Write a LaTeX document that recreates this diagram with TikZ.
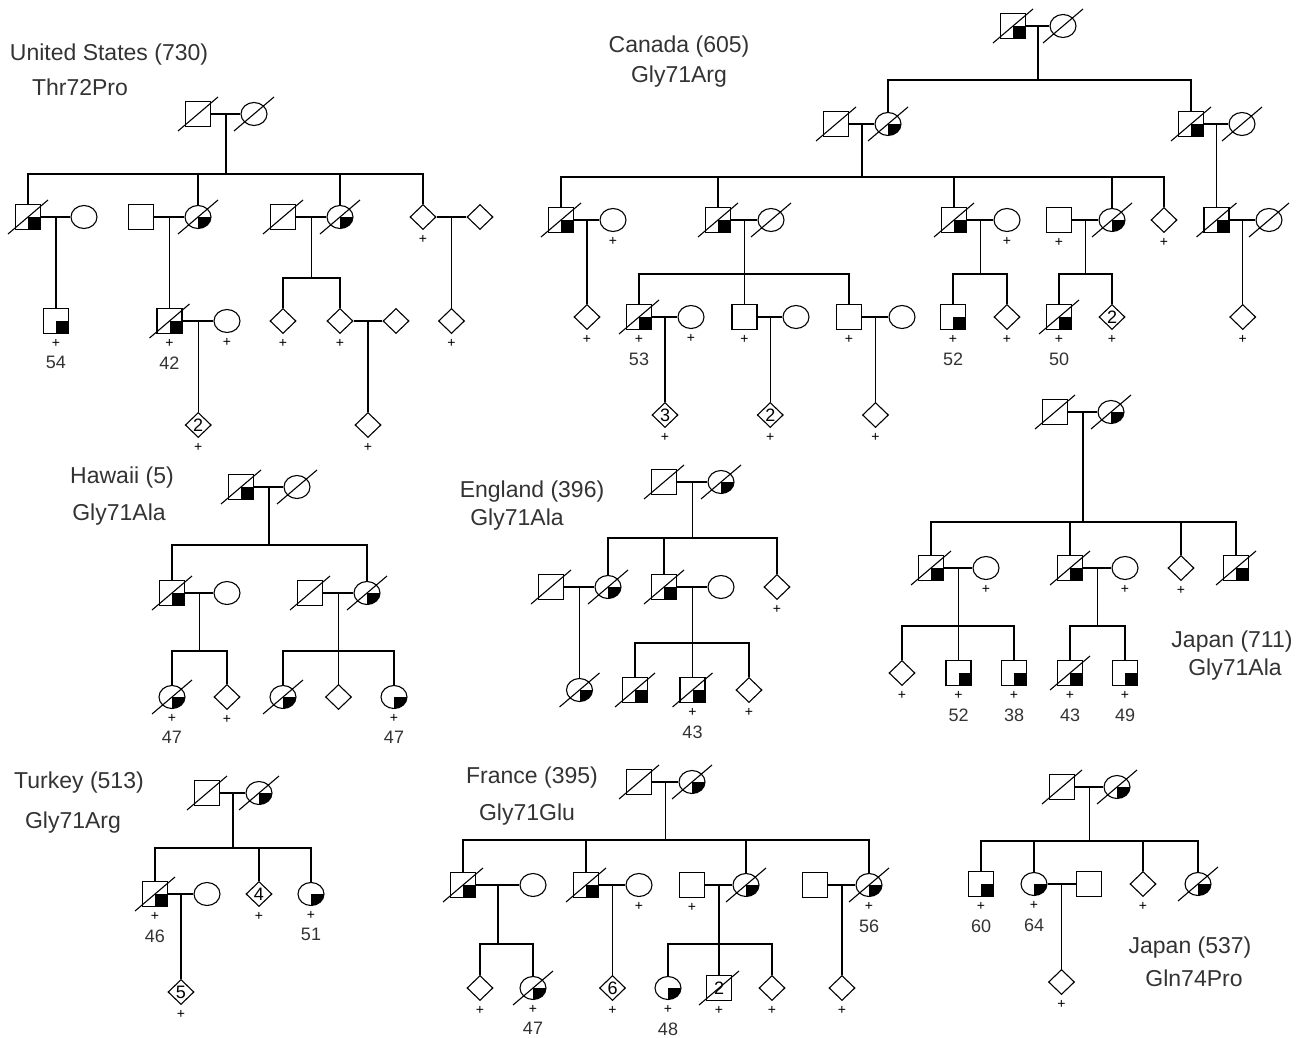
\documentclass[tikz,border=0pt]{standalone}
\usepackage{fontspec}
\setmainfont{Liberation Sans}
\usetikzlibrary{shapes.geometric,calc}

\newcommand{\pedtitle}{\fontsize{23}{27}\selectfont}
\newcommand{\pedage}{\fontsize{18}{21}\selectfont}
\newcommand{\pedplus}{\fontsize{14}{16}\selectfont}
\newcommand{\pednum}{\fontsize{18}{20}\selectfont}

\begin{document}
\begin{tikzpicture}[
  x=1pt, y=-1pt, line width=1.1pt,
  male/.style={draw, rectangle, minimum size=25, inner sep=0, font=\pednum},
  female/.style={draw, ellipse, minimum width=26, minimum height=23, inner sep=0},
  unk/.style={draw, diamond, minimum width=26, minimum height=25, inner sep=0, font=\pednum},
  car/.style={path picture={\fill (path picture bounding box.center) rectangle (path picture bounding box.south east);}},
  dec/.style={append after command={([shift={(-20,17)}]\tikzlastnode.center) edge ([shift={(20,-17)}]\tikzlastnode.center)}},
  pl/.style={label={[font=\pedplus, inner sep=0, label distance=5]below:+}},
  age/.style={label={[font=\pedage, text=black!80, inner sep=0, label distance=22]below:#1}},
  famname/.style={font=\pedtitle, text=black!80, inner sep=0}
]
\useasboundingbox (0,0) rectangle (1311,1038);

\node[famname] (usT) at (109,55) {United States (730)};
\node[famname] (usM) at (80,87) {Thr72Pro};
\node[male, dec] (us1) at (198,114) {};
\node[female, dec] (us2) at (254,114) {};
\node[male, dec, car] (us3) at (28,217) {};
\node[female] (us4) at (84,217) {};
\node[male] (us5) at (141,217) {};
\node[female, dec, car] (us6) at (198,217) {};
\node[male, dec] (us7) at (283,217) {};
\node[female, dec, car] (us8) at (340,217) {};
\node[unk, pl] (us9) at (423,217) {};
\node[unk] (us10) at (480,217) {};
\node[male, car, pl, age=54] (us11) at (56,321) {};
\node[male, dec, car, pl, age=42] (us12) at (169.5,321) {};
\node[female, pl] (us13) at (227,321) {};
\node[unk, pl] (us14) at (198.25,425) {2};
\node[unk, pl] (us15) at (283,321) {};
\node[unk, pl] (us16) at (340,321) {};
\node[unk] (us17) at (396,321) {};
\node[unk, pl] (us18) at (368,425) {};
\node[unk, pl] (us19) at (451.5,321) {};
\draw (us1) -- (us2);
\draw ($(us1)!.5!(us2)$) -- ++(0,60) coordinate (usS1);
\draw (us3.north) |- (usS1) -| (us9.north);
\draw (us6) -- (us6 |- usS1);
\draw (us8) -- (us8 |- usS1);
\draw (us3) -- (us4);
\draw ($(us3)!.5!(us4)$) -- (us11);
\draw (us5) -- (us6);
\draw ($(us5)!.5!(us6)$) -- (us12);
\draw (us7) -- (us8);
\draw ($(us7)!.5!(us8)$) -- ++(0,61) coordinate (usS2);
\draw (us15.north) |- (usS2) -| (us16.north);
\draw (us9) -- (us10);
\draw ($(us9)!.5!(us10)$) -- (us19);
\draw (us12) -- (us13);
\draw ($(us12)!.5!(us13)$) -- (us14);
\draw (us16) -- (us17);
\draw ($(us16)!.5!(us17)$) -- (us18);

\node[famname] (caT) at (679,47) {Canada (605)};
\node[famname] (caM) at (679,77) {Gly71Arg};
\node[male, dec, car] (ca1) at (1013,26) {};
\node[female, dec] (ca2) at (1063,26) {};
\node[male, dec] (ca3) at (836,124) {};
\node[female, dec, car] (ca4) at (888,124) {};
\node[male, dec, car] (ca5) at (1191,124) {};
\node[female, dec] (ca6) at (1242,124) {};
\node[male, dec, car] (ca7) at (561,220) {};
\node[female, pl] (ca8) at (613,220) {};
\node[unk, pl] (ca9) at (587,317) {};
\node[male, dec, car] (ca10) at (718,220) {};
\node[female, dec] (ca11) at (771,220) {};
\node[male, dec, car] (ca12) at (954,220) {};
\node[female, pl] (ca13) at (1007,220) {};
\node[male, pl] (ca14) at (1059,220) {};
\node[female, dec, car] (ca15) at (1112,220) {};
\node[unk, pl] (ca16) at (1164,220) {};
\node[male, dec, car] (ca17) at (1216.5,220) {};
\node[female, dec] (ca18) at (1269,220) {};
\node[unk, pl] (ca19) at (1242.75,317) {};
\node[male, dec, car, pl, age=53] (ca20) at (639,317) {};
\node[female, pl] (ca21) at (691,317) {};
\node[unk, pl] (ca22) at (665,415) {3};
\node[male, pl] (ca23) at (744.5,317) {};
\node[female] (ca24) at (796,317) {};
\node[unk, pl] (ca25) at (770.25,415) {2};
\node[male, pl] (ca26) at (849,317) {};
\node[female] (ca27) at (902,317) {};
\node[unk, pl] (ca28) at (875.5,415) {};
\node[male, car, pl, age=52] (ca29) at (953,317) {};
\node[unk, pl] (ca30) at (1007,317) {};
\node[male, dec, car, pl, age=50] (ca31) at (1059,317) {};
\node[unk, pl] (ca32) at (1112,317) {2};
\draw (ca1) -- (ca2);
\draw ($(ca1)!.5!(ca2)$) -- ++(0,54) coordinate (caS1);
\draw (ca4.north) |- (caS1) -| (ca5.north);
\draw (ca3) -- (ca4);
\draw ($(ca3)!.5!(ca4)$) -- ++(0,53) coordinate (caS2);
\draw (ca7.north) |- (caS2) -| (ca16.north);
\draw (ca10) -- (ca10 |- caS2);
\draw (ca12) -- (ca12 |- caS2);
\draw (ca15) -- (ca15 |- caS2);
\draw (ca5) -- (ca6);
\draw ($(ca5)!.5!(ca6)$) -- (ca17);
\draw (ca7) -- (ca8);
\draw ($(ca7)!.5!(ca8)$) -- (ca9);
\draw (ca10) -- (ca11);
\draw ($(ca10)!.5!(ca11)$) -- ++(0,54) coordinate (caS3);
\draw (ca20.north) |- (caS3) -| (ca26.north);
\draw (ca23) -- (ca23 |- caS3);
\draw (ca12) -- (ca13);
\draw ($(ca12)!.5!(ca13)$) -- ++(0,54) coordinate (caS4);
\draw (ca29.north) |- (caS4) -| (ca30.north);
\draw (ca14) -- (ca15);
\draw ($(ca14)!.5!(ca15)$) -- ++(0,54) coordinate (caS5);
\draw (ca31.north) |- (caS5) -| (ca32.north);
\draw (ca17) -- (ca18);
\draw ($(ca17)!.5!(ca18)$) -- (ca19);
\draw (ca20) -- (ca21);
\draw ($(ca20)!.5!(ca21)$) -- (ca22);
\draw (ca23) -- (ca24);
\draw ($(ca23)!.5!(ca24)$) -- (ca25);
\draw (ca26) -- (ca27);
\draw ($(ca26)!.5!(ca27)$) -- (ca28);

\node[famname] (hwT) at (122,478) {Hawaii (5)};
\node[famname] (hwM) at (119,515) {Gly71Ala};
\node[male, dec, car] (hw1) at (241,487) {};
\node[female, dec] (hw2) at (297,487) {};
\node[male, dec, car] (hw3) at (172,593) {};
\node[female] (hw4) at (227,593) {};
\node[male, dec] (hw5) at (310,593) {};
\node[female, dec, car] (hw6) at (367,593) {};
\node[female, dec, car, pl, age=47] (hw7) at (172,697) {};
\node[unk, pl] (hw8) at (227,697) {};
\node[female, dec, car] (hw9) at (283,697) {};
\node[unk] (hw10) at (338.5,697) {};
\node[female, car, pl, age=47] (hw11) at (394,697) {};
\draw (hw1) -- (hw2);
\draw ($(hw1)!.5!(hw2)$) -- ++(0,58) coordinate (hwS1);
\draw (hw3.north) |- (hwS1) -| (hw6.north);
\draw (hw3) -- (hw4);
\draw ($(hw3)!.5!(hw4)$) -- ++(0,58) coordinate (hwS2);
\draw (hw7.north) |- (hwS2) -| (hw8.north);
\draw (hw5) -- (hw6);
\draw ($(hw5)!.5!(hw6)$) -- ++(0,58) coordinate (hwS3);
\draw (hw9.north) |- (hwS3) -| (hw11.north);
\draw (hw10) -- (hw10 |- hwS3);

\node[famname] (enT) at (532,492) {England (396)};
\node[famname] (enM) at (517,520) {Gly71Ala};
\node[male, dec] (en1) at (664,482) {};
\node[female, dec, car] (en2) at (721,482) {};
\node[male, dec] (en3) at (551,587) {};
\node[female, dec, car] (en4) at (608,587) {};
\node[male, dec, car] (en5) at (664,587) {};
\node[female] (en6) at (721,587) {};
\node[unk, pl] (en7) at (777,587) {};
\node[female, dec, car] (en8) at (579.5,690) {};
\node[male, dec, car] (en9) at (635,690) {};
\node[male, dec, car, pl, age=43] (en10) at (692.5,690) {};
\node[unk, pl] (en11) at (749,690) {};
\draw (en1) -- (en2);
\draw ($(en1)!.5!(en2)$) -- ++(0,56) coordinate (enS1);
\draw (en4.north) |- (enS1) -| (en7.north);
\draw (en5) -- (en5 |- enS1);
\draw (en3) -- (en4);
\draw ($(en3)!.5!(en4)$) -- (en8);
\draw (en5) -- (en6);
\draw ($(en5)!.5!(en6)$) -- ++(0,56) coordinate (enS2);
\draw (en9.north) |- (enS2) -| (en11.north);
\draw (en10) -- (en10 |- enS2);

\node[famname] (jpT) at (1232,642) {Japan (711)};
\node[famname] (jpM) at (1235,670) {Gly71Ala};
\node[male, dec] (jp1) at (1055,412) {};
\node[female, dec, car] (jp2) at (1111,412) {};
\node[male, dec, car] (jp3) at (931,568) {};
\node[female, pl] (jp4) at (986,568) {};
\node[male, dec, car] (jp5) at (1070,568) {};
\node[female, pl] (jp6) at (1125,568) {};
\node[unk, pl] (jp7) at (1181,568) {};
\node[male, dec, car] (jp8) at (1236,568) {};
\node[unk, pl] (jp9) at (902,673) {};
\node[male, car, pl, age=52] (jp10) at (958.5,673) {};
\node[male, car, pl, age=38] (jp11) at (1014,673) {};
\node[male, dec, car, pl, age=43] (jp12) at (1070,673) {};
\node[male, car, pl, age=49] (jp13) at (1125,673) {};
\draw (jp1) -- (jp2);
\draw ($(jp1)!.5!(jp2)$) -- ++(0,110) coordinate (jpS1);
\draw (jp3.north) |- (jpS1) -| (jp8.north);
\draw (jp5) -- (jp5 |- jpS1);
\draw (jp7) -- (jp7 |- jpS1);
\draw (jp3) -- (jp4);
\draw ($(jp3)!.5!(jp4)$) -- ++(0,58) coordinate (jpS2);
\draw (jp9.north) |- (jpS2) -| (jp11.north);
\draw (jp10) -- (jp10 |- jpS2);
\draw (jp5) -- (jp6);
\draw ($(jp5)!.5!(jp6)$) -- ++(0,58) coordinate (jpS3);
\draw (jp12.north) |- (jpS3) -| (jp13.north);

\node[famname] (tkT) at (79,783) {Turkey (513)};
\node[famname] (tkM) at (73,823) {Gly71Arg};
\node[male, dec] (tk1) at (207,793) {};
\node[female, dec, car] (tk2) at (259,793) {};
\node[male, dec, car, pl, age=46] (tk3) at (155,894) {};
\node[female] (tk4) at (207,894) {};
\node[unk, pl] (tk5) at (181,992) {5};
\node[unk, pl] (tk6) at (259,894) {4};
\node[female, car, pl, age=51] (tk7) at (311,894) {};
\draw (tk1) -- (tk2);
\draw ($(tk1)!.5!(tk2)$) -- ++(0,55) coordinate (tkS1);
\draw (tk3.north) |- (tkS1) -| (tk7.north);
\draw (tk6) -- (tk6 |- tkS1);
\draw (tk3) -- (tk4);
\draw ($(tk3)!.5!(tk4)$) -- (tk5);

\node[famname] (frT) at (532,778) {France (395)};
\node[famname] (frM) at (527,815) {Gly71Glu};
\node[male, dec] (fr1) at (639,782) {};
\node[female, dec, car] (fr2) at (692,782) {};
\node[male, dec, car] (fr3) at (463,885) {};
\node[female] (fr4) at (533,885) {};
\node[male, dec, car] (fr5) at (586,885) {};
\node[female, pl] (fr6) at (639,885) {};
\node[unk, pl] (fr7) at (612.5,988) {6};
\node[male, pl] (fr8) at (692,885) {};
\node[female, dec, car] (fr9) at (746,885) {};
\node[male] (fr10) at (815,885) {};
\node[female, dec, car, pl, age=56] (fr11) at (869,885) {};
\node[unk, pl] (fr12) at (842,988) {};
\node[unk, pl] (fr13) at (480,988) {};
\node[female, dec, car, pl, age=47] (fr14) at (533,988) {};
\node[female, car, pl, age=48] (fr15) at (668,988) {};
\node[male, dec, pl] (fr16) at (719,988) {2};
\node[unk, pl] (fr17) at (772,988) {};
\draw (fr1) -- (fr2);
\draw ($(fr1)!.5!(fr2)$) -- ++(0,58) coordinate (frS1);
\draw (fr3.north) |- (frS1) -| (fr11.north);
\draw (fr5) -- (fr5 |- frS1);
\draw (fr9) -- (fr9 |- frS1);
\draw (fr3) -- (fr4);
\draw ($(fr3)!.5!(fr4)$) -- ++(0,59) coordinate (frS2);
\draw (fr13.north) |- (frS2) -| (fr14.north);
\draw (fr5) -- (fr6);
\draw ($(fr5)!.5!(fr6)$) -- (fr7);
\draw (fr8) -- (fr9);
\draw ($(fr8)!.5!(fr9)$) -- ++(0,59) coordinate (frS3);
\draw (fr15.north) |- (frS3) -| (fr17.north);
\draw (fr16) -- (fr16 |- frS3);
\draw (fr10) -- (fr11);
\draw ($(fr10)!.5!(fr11)$) -- (fr12);

\node[famname] (jqT) at (1190,948) {Japan (537)};
\node[famname] (jqM) at (1194,978) {Gln74Pro};
\node[male, dec] (jq1) at (1062,787) {};
\node[female, dec, car] (jq2) at (1117,787) {};
\node[male, car, pl, age=60] (jq3) at (981,884) {};
\node[female, car, pl, age=64] (jq4) at (1034,884) {};
\node[male] (jq5) at (1089,884) {};
\node[unk, pl] (jq6) at (1061.5,982) {};
\node[unk, pl] (jq7) at (1143,884) {};
\node[female, dec, car] (jq8) at (1198,884) {};
\draw (jq1) -- (jq2);
\draw ($(jq1)!.5!(jq2)$) -- ++(0,54) coordinate (jqS1);
\draw (jq3.north) |- (jqS1) -| (jq8.north);
\draw (jq4) -- (jq4 |- jqS1);
\draw (jq7) -- (jq7 |- jqS1);
\draw (jq4) -- (jq5);
\draw ($(jq4)!.5!(jq5)$) -- (jq6);
\end{tikzpicture}
\end{document}
